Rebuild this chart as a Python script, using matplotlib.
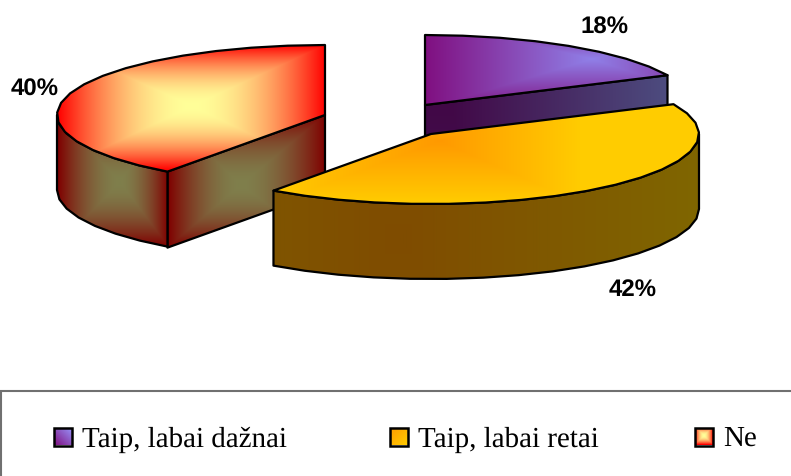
import numpy as np
import matplotlib
matplotlib.use("Agg")
import matplotlib.pyplot as plt
from matplotlib.patches import Polygon, Rectangle

plt.rcParams["text.hinting"] = "no_hinting"
plt.rcParams["text.hinting_factor"] = 1

# data
categories = ["Taip, labai dažnai", "Taip, labai retai", "Ne"]
values = [18, 42, 40]
pct_labels = ["18%", "42%", "40%"]

# layout (pixel space of the 791x477 figure)
W, H = 791, 477
A, B, DEPTH = 268, 70, 75
centers = [(425, 106), (431, 135), (325, 116)]
label_pos = [(605, 27.5), (633, 290), (35, 89.5)]
legend_text_x = [82, 418, 723]
legend_box_x = [54, 390, 695]
STEP = 8.0

fig = plt.figure(figsize=(W / 100, H / 100), dpi=100)
ax = fig.add_axes([0, 0, 1, 1])
ax.set_axis_off()


def hexc(s):
    s = s.lstrip("#")
    return np.array([int(s[i:i + 2], 16) / 255 for i in (0, 2, 4)])


def gradient(bbox, centre, scales, c0, c1, clip, power=1.0, z=1):
    """Rectangular path gradient clipped to a polygon. scales: left,right,up,down."""
    x0, x1, y0, y1 = bbox
    xs = np.arange(x0, x1 + 1) + 0.5
    ys = np.arange(y0, y1 + 1) + 0.5
    X, Y = np.meshgrid(xs, ys)
    dx = X - centre[0]
    dy = Y - centre[1]
    tx = np.where(dx < 0, -dx / scales[0], dx / scales[1])
    ty = np.where(dy < 0, -dy / scales[2], dy / scales[3])
    t = np.clip(np.maximum(tx, ty), 0, 1) ** power
    img = hexc(c0)[None, None, :] * (1 - t[..., None]) + hexc(c1)[None, None, :] * t[..., None]
    im = ax.imshow(img, extent=(x0, x1 + 1, y1 + 1, y0), aspect="auto",
                   interpolation="bilinear", zorder=z)
    im.set_clip_path(clip)


def arc(c, start, stop):
    """Faceted rim points; angles clockwise from 12 o'clock."""
    n = max(2, int(round((stop - start) / STEP)) + 1)
    th = np.radians(np.linspace(start, stop, n))
    return np.column_stack([c[0] + A * np.sin(th), c[1] - B * np.cos(th)])


def face(pts, z):
    fill = Polygon(pts, closed=True, transform=ax.transData, facecolor="none", edgecolor="none")
    ax.add_patch(fill)
    edge = Polygon(pts, closed=True, facecolor="none", edgecolor="black", lw=1.6,
                   joinstyle="round", zorder=z + 0.5)
    ax.add_patch(edge)
    return fill


def dark(pts):
    return pts + np.array([0, DEPTH])


edges = np.cumsum([0] + values) * 3.6
a = list(zip(edges[:-1], edges[1:]))

# --- purple slice
c = centers[0]
rim = arc(c, *a[0])
tip = rim[-1]
quad = np.array([c, tip, tip + [0, DEPTH], np.array(c) + [0, DEPTH]])
gradient((425, 670, 70, 190), (425, 0), (1, 245, 1, 1000), "#400040", "#4D4D80",
         face(quad, 2), z=2)
gradient((425, 670, 34, 108), (592, 60), (167, 150, 40, 50), "#9080E8", "#800F80",
         face(np.vstack([[c], rim]), 3), z=3)

# --- red slice
c = centers[2]
s, e = a[2]
rim = arc(c, s, e)
apex = rim[0]
front = np.array([c, apex, apex + [0, DEPTH + 1], np.array(c) + [0, DEPTH + 1]])
gradient((168, 326, 116, 248), (241, 186), (73, 84, 70, 62), "#7F7F4C", "#7F0000",
         face(front, 4), power=1.8, z=4)
side_rim = arc(c, s, 270)
side = np.vstack([side_rim, dark(side_rim)[::-1]])
gradient((58, 169, 116, 248), (120, 183), (62, 48, 67, 64), "#7F7F4C", "#7F0000",
         face(side, 5), power=1.8, z=5)
gradient((58, 326, 44, 172), (192, 107), (134, 133, 61, 64), "#FFFF99", "#FF0000",
         face(np.vstack([[c], rim]), 6), power=1.9, z=6)

# --- orange slice
c = centers[1]
s, e = a[1]
rim = arc(c, s, e)
side_rim = np.vstack([[c[0] + A, c[1]], arc(c, 90, e)])
side = np.vstack([side_rim, dark(side_rim)[::-1]])
gradient((274, 701, 130, 282), (400, 240), (400, 300, 400, 400), "#7F4C00", "#7F6600",
         face(side, 7), z=7)
gradient((274, 701, 104, 207), (440, 142), (165, 140, 40, 62), "#FF9900", "#FFCC00",
         face(np.vstack([[c], rim]), 8), z=8)

# --- percentage labels
for (x, y), t in zip(label_pos, pct_labels):
    ax.text(x, y, t, ha="center", va="center", fontsize=17.3, fontweight="bold",
            family="Liberation Sans", color="black", zorder=10)

# --- legend frame
ax.plot([0.5, 0.5, W], [H, 391.5, 391.5], color="#707070", lw=1.5, zorder=1,
        solid_joinstyle="miter")

# --- legend entries
swatches = [
    ("#9999FF", "#800F80"),
    ("#FF9900", "#FFCC00"),
    ("#FFFF99", "#FF0000"),
]
SW = 18
for lx, tx, name, (c0, c1) in zip(legend_box_x, legend_text_x, categories, swatches):
    ly = 428.5
    rect = Rectangle((lx, ly), SW, SW, facecolor="none", edgecolor="black", lw=1.8, zorder=12)
    ax.add_patch(rect)
    clip = Rectangle((lx, ly), SW, SW, facecolor="none", edgecolor="none", transform=ax.transData)
    ax.add_patch(clip)
    if name == categories[2]:
        ctr = (lx + SW / 2, ly + SW / 2)
        gradient((lx, lx + SW, int(ly), int(ly) + SW + 1), ctr, (SW / 2,) * 4, c0, c1, clip,
                 power=1.9, z=11)
    else:
        ctr = (lx + SW, ly) if name == categories[0] else (lx, ly)
        xs = np.arange(lx, lx + SW + 1) + 0.5
        ys = np.arange(int(ly), int(ly) + SW + 2) + 0.5
        X, Y = np.meshgrid(xs, ys)
        t = np.clip((np.abs(X - ctr[0]) + np.abs(Y - ctr[1])) / (2 * SW), 0, 1)[..., None]
        img = hexc(c0)[None, None, :] * (1 - t) + hexc(c1)[None, None, :] * t
        im = ax.imshow(img, extent=(lx, lx + SW + 1, int(ly) + SW + 2, int(ly)),
                       aspect="auto", zorder=11)
        im.set_clip_path(clip)
    ax.text(tx, 446.5, name, ha="left", va="baseline", fontsize=20.9,
            family="Liberation Serif", color="black", zorder=12)

ax.set_xlim(0, W)
ax.set_ylim(H, 0)
fig.savefig("out.png", dpi=100, facecolor="white")
